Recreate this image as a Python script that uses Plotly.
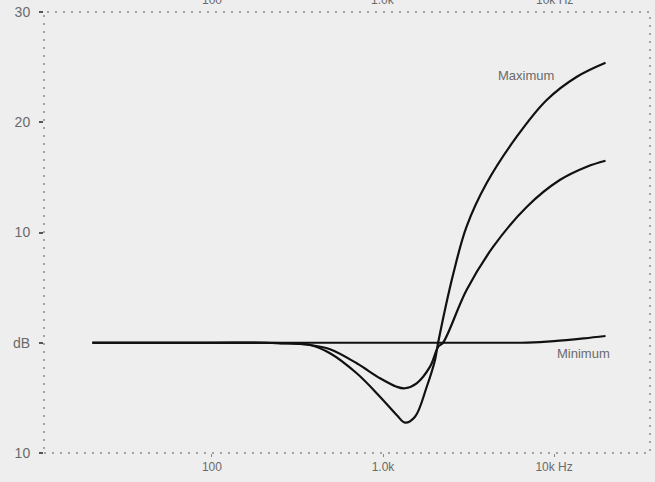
import math
import plotly.graph_objects as go

# Frequencies (Hz) and levels (dB)
max_freq = [20, 100, 200, 250, 374, 490, 702, 960, 1202, 1345, 1539, 1802, 2014, 2100,
            2580, 3080, 4030, 6050, 9060, 13600, 20000]
max_db = [0, 0, 0, -0.05, -0.2, -0.95, -2.77, -4.89, -6.55, -7.25, -6.71, -3.99, -1.56, 0.0,
          6.3, 10.53, 14.46, 18.69, 22.02, 24.13, 25.4]

mid_freq = [20, 100, 200, 250, 374, 490, 702, 960, 1202, 1345, 1573, 1884, 2105, 2244,
            3080, 4410, 6940, 10800, 15540, 20000]
mid_db = [0, 0, 0, -0.03, -0.2, -0.59, -1.86, -3.22, -3.99, -4.13, -3.68, -2.17, -0.36, 0.0,
          4.78, 8.71, 12.34, 14.76, 15.97, 16.51]

min_freq = [20, 100, 1000, 5000, 7000, 10000, 15000, 20000]
min_db = [0, 0, 0, 0, 0.02, 0.15, 0.4, 0.61]

x_tickvals = [100, 1000, 10000]
x_ticktext = ["100", "1.0k", "10k Hz"]
y_tickvals = [30, 20, 10, 0, -10]
y_ticktext = ["30", "20", "10", "dB", "10"]

# curve labels (frequency Hz, level dB)
labels = [("Maximum", 6850, 24.2), ("Minimum", 14800, -0.93)]

BG = "#eeeeee"
TXT = "#6a6a6a"
FONT = "Liberation Sans, Arial, sans-serif"

fig = go.Figure()
for fx, fy in [(min_freq, min_db), (mid_freq, mid_db), (max_freq, max_db)]:
    fig.add_trace(go.Scatter(x=fx, y=fy, mode="lines",
                             line=dict(color="#111111", width=2.2, shape="spline", smoothing=1.0),
                             showlegend=False, hoverinfo="skip"))

fig.update_layout(
    width=655, height=482,
    margin=dict(l=44, r=5, t=12, b=29),
    paper_bgcolor=BG, plot_bgcolor=BG,
    font=dict(family=FONT, color=TXT, size=12),
    xaxis=dict(type="log", range=[1.018, 4.561], tickvals=x_tickvals, ticktext=x_ticktext,
               showgrid=False, zeroline=False, showline=False,
               ticks="outside", ticklen=3, tickcolor="#888888", tickwidth=1,
               tickfont=dict(size=12, color=TXT, family=FONT)),
    yaxis=dict(range=[-10, 30], tickvals=y_tickvals, ticktext=y_ticktext,
               showgrid=False, zeroline=False, showline=False,
               ticks="outside", ticklen=4, tickcolor="#555555", tickwidth=2,
               ticklabelstandoff=6,
               tickfont=dict(size=14, color=TXT, family=FONT)),
    shapes=[
        dict(type="rect", xref="paper", yref="paper", x0=0, x1=1, y0=0, y1=1,
             line=dict(color="#8a8a8a", width=1.5, dash="2px,6px"), layer="below"),
    ],
)

for t, fx, fy in labels:
    fig.add_annotation(x=math.log10(fx), y=fy, xref="x", yref="y", text=t, showarrow=False,
                       font=dict(size=13, color=TXT, family=FONT))

# Top axis labels, partly cut by the top edge as in the reference
for v, t in zip(x_tickvals, x_ticktext):
    fig.add_annotation(x=math.log10(v), y=1, xref="x", yref="paper", text=t, showarrow=False,
                       yanchor="middle", yshift=12, font=dict(size=12, color=TXT, family=FONT))

fig.write_html("out.html", config={"displayModeBar": False},
               post_script="document.body.style.margin='0';document.body.style.background='#eeeeee';")
